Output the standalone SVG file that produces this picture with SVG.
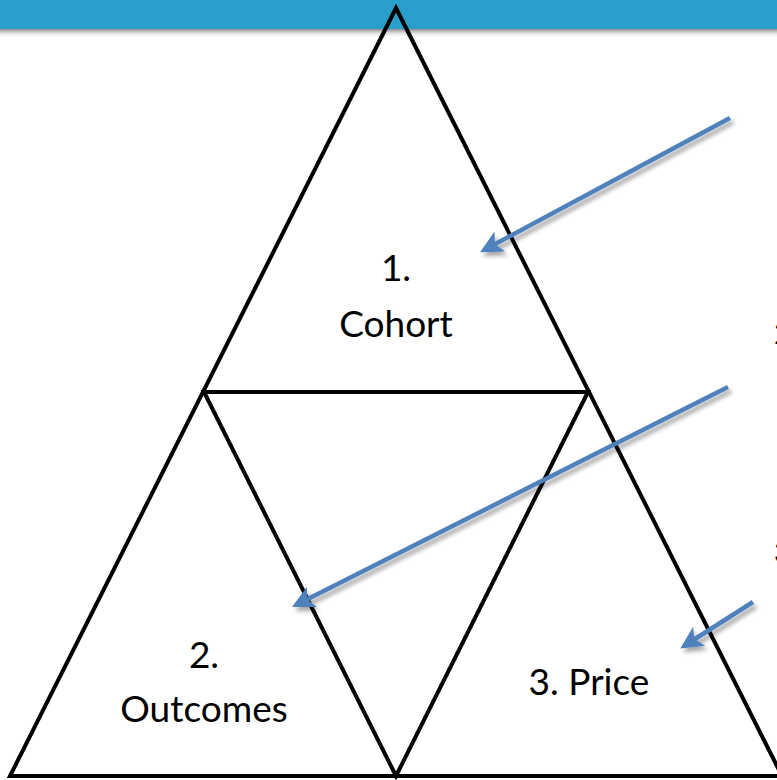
<svg xmlns="http://www.w3.org/2000/svg" width="777" height="780" viewBox="0 0 777 780">
<style>
.tri{fill:none;stroke:#000;stroke-width:4;stroke-linejoin:miter}
.lbl{font-family:Lato,"Liberation Sans",sans-serif;font-size:37px;fill:#000;text-anchor:middle}
.frag{font-family:Lato,"Liberation Sans",sans-serif;font-size:30px;fill:#000}
.arr{stroke:#4f81bd;stroke-width:4.5;fill:none;marker-end:url(#ah)}
</style>
<defs>
<linearGradient id="sh" x1="0" y1="0" x2="0" y2="1">
<stop offset="0" stop-color="#8a8a8a"/>
<stop offset="1" stop-color="#ffffff" stop-opacity="0"/>
</linearGradient>
<marker id="ah" viewBox="0 0 10 10" refX="8" refY="5" markerWidth="5.5" markerHeight="5" orient="auto" markerUnits="strokeWidth">
<path d="M0,0 L10,5 L0,10 L2.5,5 Z" fill="#4f81bd"/>
</marker>
<filter id="ds" x="-20%" y="-20%" width="140%" height="140%">
<feGaussianBlur in="SourceAlpha" stdDeviation="2"/>
<feOffset dx="3" dy="4" result="b"/>
<feComponentTransfer><feFuncA type="linear" slope="0.35"/></feComponentTransfer>
<feMerge><feMergeNode/><feMergeNode in="SourceGraphic"/></feMerge>
</filter>
</defs>
<rect x="0" y="0" width="777" height="29" fill="#2a9fcb"/>
<rect x="0" y="29" width="777" height="9" fill="url(#sh)"/>
<g id="triangle">
<polygon class="tri" points="396,8 10,776 782,776"/>
<polygon class="tri" points="204,392 588,392 396,776"/>
</g>
<g id="node1"><text class="lbl" x="396" y="281">1.</text><text class="lbl" x="396" y="337">Cohort</text></g>
<g id="node2"><text class="lbl" x="204" y="668">2.</text><text class="lbl" x="204" y="722">Outcomes</text></g>
<g id="node3"><text class="lbl" x="589" y="695">3. Price</text></g>
<g id="edge-labels">
<text class="frag" x="774" y="344">2.</text>
<text class="frag" x="774" y="563">3.</text>
</g>
<g id="connectors" filter="url(#ds)">
<line class="arr" x1="730" y1="118" x2="484" y2="250"/>
<line class="arr" x1="728" y1="387" x2="296" y2="605"/>
<line class="arr" x1="753" y1="602" x2="684" y2="646"/>
</g>
</svg>
